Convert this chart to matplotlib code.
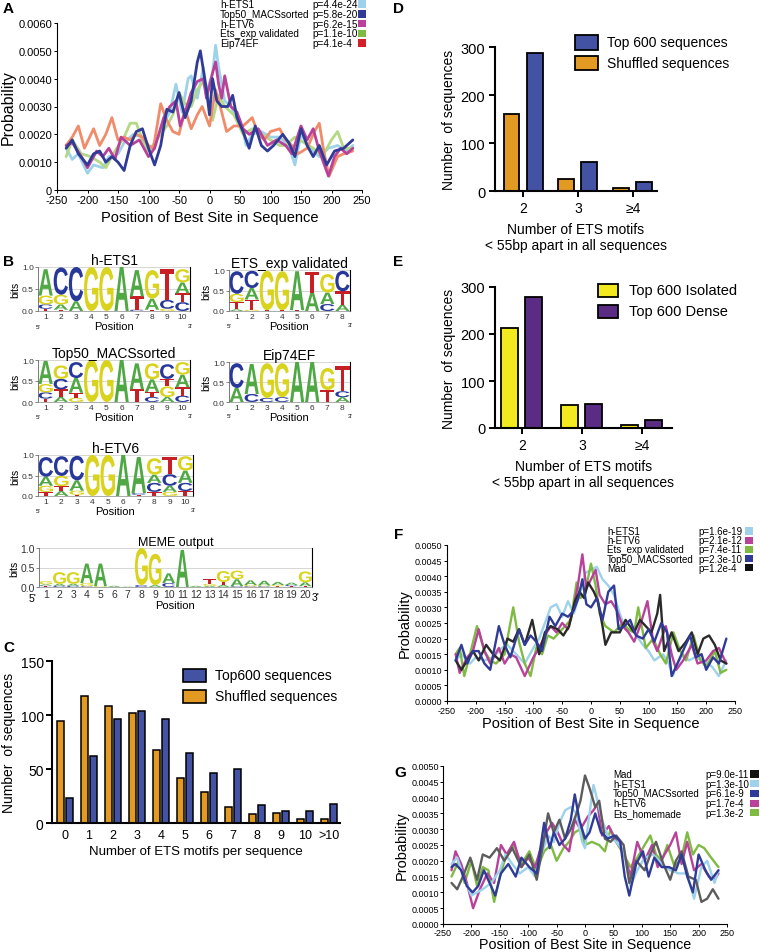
import numpy as np
import matplotlib
matplotlib.use("Agg")
import matplotlib.pyplot as plt
from matplotlib.patches import Rectangle, PathPatch
from matplotlib.textpath import TextPath
from matplotlib.font_manager import FontProperties
from matplotlib.transforms import Affine2D

plt.rcParams['font.family'] = ['Liberation Sans', 'DejaVu Sans']

# ---------------- DATA ----------------
# Panel A (probability x 1e-3)
a_ets1_x = [-235,-225,-215,-200,-190,-175,-165,-150,-140,-125,-110,-100,-90,-75,-65,-55,-45,-35,-30,-20,-10,-5,5,10,15,25,35,45,55,60,70,85,100,115,130,140,150,165,180,195,210,225,235]
a_ets1_y = [1.5,1.1,1.3,0.6,0.9,0.8,1.2,1.3,1.7,2.0,1.9,1.4,1.6,2.4,2.8,3.8,2.8,4.0,4.1,3.3,4.4,3.5,4.2,5.2,4.4,3.2,3.0,2.6,2.1,1.6,2.0,2.1,1.9,1.9,1.6,0.9,2.0,1.5,1.2,1.5,1.6,1.4,1.6]
a_top50_x = [-235,-225,-215,-200,-190,-180,-170,-160,-150,-140,-130,-120,-110,-100,-90,-80,-70,-60,-50,-40,-30,-20,-15,-5,0,5,12,20,30,38,45,55,65,75,85,95,105,120,130,140,150,160,170,180,192,205,220,235]
a_top50_y = [1.5,1.8,1.3,0.9,1.3,1.4,1.0,1.2,1.0,0.7,1.6,2.1,2.2,1.5,0.9,1.6,2.9,2.8,3.5,2.6,3.2,4.6,5.0,3.6,2.7,4.0,3.2,3.0,3.0,3.4,2.6,2.1,1.5,2.3,1.6,1.4,1.6,2.0,1.7,1.2,2.2,1.6,1.2,1.6,0.9,1.4,1.5,1.8]
a_etv6_x = [-235,-225,-210,-200,-185,-175,-165,-155,-145,-130,-115,-100,-90,-75,-65,-55,-48,-40,-30,-20,-10,-5,5,10,15,20,25,35,45,55,65,80,95,110,125,135,150,160,170,180,195,205,215,225,235]
a_etv6_y = [1.6,1.7,1.2,0.8,1.4,1.2,1.5,1.1,1.9,1.6,1.8,1.2,1.5,2.6,3.0,3.2,2.3,2.8,3.5,3.9,4.0,3.3,4.2,4.6,3.8,3.3,4.1,3.0,2.8,2.2,2.0,2.2,1.6,1.8,1.6,1.3,2.3,1.8,2.2,1.4,0.5,1.2,1.5,1.3,1.5]
a_exp_x = [-235,-225,-210,-195,-180,-170,-155,-140,-130,-120,-110,-100,-90,-80,-70,-60,-50,-40,-30,-20,-10,0,5,15,25,40,55,70,85,100,115,125,140,155,170,185,200,210,220,235]
a_exp_y = [1.2,1.8,1.3,1.2,1.0,0.8,1.4,1.9,2.4,2.4,1.8,1.4,1.7,2.0,2.3,2.7,3.5,3.1,3.0,3.6,3.9,3.1,2.5,3.4,3.0,2.7,2.0,2.2,2.0,1.8,1.6,1.6,1.9,1.7,1.5,1.2,1.8,2.1,1.5,1.5]
a_eip_x = [-235,-225,-215,-205,-190,-180,-170,-160,-150,-140,-130,-120,-110,-100,-92,-80,-70,-60,-50,-40,-30,-20,-12,0,10,20,28,40,55,70,80,90,100,115,125,135,145,160,172,180,188,196,210,220,235]
a_eip_y = [1.6,1.9,2.3,1.5,2.2,1.6,2.0,2.6,1.8,1.9,1.8,2.0,1.9,1.6,1.5,3.1,2.5,2.1,2.0,2.9,2.2,2.7,3.0,2.3,3.6,2.8,2.1,2.3,2.3,2.6,2.0,1.8,2.1,2.2,1.8,1.6,1.3,1.5,2.1,2.4,1.3,0.5,1.2,1.3,1.4]
a_names = ['h-ETS1', 'Top50_MACSsorted', 'h-ETV6', 'Ets_exp validated', 'Eip74EF']
a_pvals = ['p=4.4e-24', 'p=5.8e-20', 'p=6.2e-15', 'p=1.1e-10', 'p=4.1e-4']

# Panel F (probability x 1e-3)
f_ets1_x = [-235,-225,-210,-200,-185,-170,-155,-145,-130,-115,-100,-90,-80,-70,-60,-50,-40,-30,-20,-10,0,10,20,30,40,50,60,75,90,100,110,125,135,142,150,160,170,180,195,210,222,235]
f_ets1_y = [1.3,1.5,1.2,1.4,1.3,1.4,1.7,1.8,1.5,1.2,1.7,2.0,2.5,3.0,3.1,2.7,3.2,2.8,3.4,4.1,4.2,4.3,3.9,3.7,3.4,2.8,2.3,2.2,1.8,1.6,1.3,1.5,1.2,0.8,1.2,1.5,1.3,1.4,1.3,1.1,0.8,1.3]
f_etv6_x = [-235,-228,-215,-205,-195,-185,-175,-160,-150,-140,-130,-115,-100,-90,-80,-70,-60,-50,-40,-30,-22,-15,-8,0,8,15,25,35,45,55,65,75,85,98,108,115,130,140,148,160,175,185,200,212,222,235]
f_etv6_y = [1.5,0.9,1.4,1.6,2.3,1.6,1.2,1.7,1.2,1.5,1.4,0.8,1.4,1.7,2.1,2.4,2.2,2.5,2.3,3.0,3.8,4.7,3.6,3.9,4.2,3.4,3.1,3.2,2.9,2.4,2.2,1.9,2.4,3.2,1.9,1.6,2.4,1.5,1.0,1.3,1.8,1.2,1.3,1.6,1.7,1.2]
f_exp_x = [-235,-228,-220,-210,-198,-185,-175,-165,-150,-135,-125,-115,-105,-95,-85,-75,-65,-55,-45,-35,-25,-18,-10,0,8,15,25,40,55,65,75,82,95,108,120,130,143,155,165,178,190,200,215,225,235]
f_exp_y = [1.5,1.7,0.8,1.5,2.4,1.6,1.3,1.2,1.5,3.0,1.9,1.2,0.8,1.7,1.5,2.1,2.0,2.2,2.4,2.6,3.8,3.3,3.5,4.4,3.7,2.8,2.4,2.2,2.5,2.3,2.2,3.0,1.7,2.0,1.5,1.2,2.2,1.6,1.3,2.1,1.3,1.1,1.6,0.9,1.0]
f_top50_x = [-235,-225,-215,-205,-195,-185,-175,-160,-150,-140,-125,-115,-105,-95,-85,-72,-62,-50,-40,-30,-22,-15,-8,0,10,20,30,40,48,58,68,78,90,100,110,122,132,140,150,162,172,182,192,200,212,222,235]
f_top50_y = [1.3,1.8,1.2,1.6,1.6,1.2,1.0,2.4,1.8,1.4,2.3,1.8,2.1,1.9,1.6,2.7,2.4,2.8,2.7,2.9,3.3,3.9,3.1,3.0,3.3,2.6,3.5,3.7,2.3,2.4,2.6,2.1,2.0,2.3,1.9,2.5,2.2,0.8,1.2,1.7,2.1,1.4,1.5,1.0,1.4,1.2,2.0]
f_mad_x = [-235,-225,-215,-205,-195,-182,-170,-158,-145,-135,-125,-115,-102,-90,-80,-70,-58,-48,-38,-28,-20,-12,-5,5,12,20,25,35,50,60,75,85,95,105,115,120,127,140,152,165,175,185,195,205,215,225,235]
f_mad_y = [1.3,1.0,1.3,1.6,1.3,1.8,1.5,1.3,2.0,1.9,2.3,1.8,2.6,1.5,2.2,2.4,2.3,2.1,2.4,3.2,3.5,3.3,3.8,3.5,3.2,2.4,1.8,2.2,2.2,2.6,2.2,2.6,2.4,2.2,2.8,3.4,1.6,2.2,1.6,1.9,2.2,1.5,2.0,2.1,1.8,1.3,1.2]
f_names = ['h-ETS1', 'h-ETV6', 'Ets_exp validated', 'Top50_MACSsorted', 'Mad']
f_pvals = ['p=1.6e-19', 'p=2.1e-12', 'p=7.4e-11', 'p=2.3e-10', 'p=1.2e-4']

# Panel G (probability x 1e-3)
g_mad_x = [-235,-225,-215,-202,-190,-180,-168,-155,-142,-128,-112,-98,-85,-75,-65,-55,-45,-35,-25,-15,-8,0,8,18,25,35,45,55,68,78,90,105,115,125,138,150,160,170,182,195,205,215,225,235]
g_mad_y = [1.3,1.1,1.5,2.1,1.4,2.2,2.1,2.4,2.0,2.4,1.8,2.2,1.4,2.4,3.5,2.9,3.3,2.7,3.0,3.5,3.9,4.7,4.3,3.7,3.9,2.7,2.6,2.8,2.5,1.3,2.0,1.7,2.2,2.6,1.9,1.4,2.0,2.3,1.5,1.4,0.7,0.8,1.1,0.8]
g_ets1_x = [-235,-225,-212,-200,-190,-180,-165,-150,-140,-128,-115,-100,-88,-75,-65,-55,-45,-35,-25,-15,-5,0,8,15,22,30,40,55,68,80,92,105,120,135,150,165,180,192,205,215,228,235]
g_ets1_y = [1.9,2.1,1.4,0.9,1.0,1.1,1.3,1.7,2.2,1.9,1.6,1.8,1.5,2.3,2.8,2.6,3.2,3.6,3.7,3.5,2.6,2.4,3.5,4.4,3.9,3.3,2.8,2.6,2.3,1.2,1.7,2.1,2.2,1.9,1.7,1.6,1.6,0.8,1.8,2.0,1.3,1.7]
g_top50_x = [-235,-228,-218,-208,-198,-188,-178,-168,-158,-148,-135,-122,-112,-98,-85,-72,-62,-55,-45,-35,-25,-18,-10,0,8,18,28,40,52,62,70,78,90,102,112,122,135,148,160,170,180,190,200,212,222,235]
g_top50_y = [1.8,1.9,1.7,1.2,1.0,1.2,1.7,1.3,0.9,1.6,1.9,1.5,2.1,1.8,1.6,3.2,2.4,2.9,2.5,2.7,3.3,4.1,3.3,2.7,2.9,3.5,2.9,2.7,2.8,2.6,1.5,0.9,1.9,2.3,1.5,2.1,1.8,1.8,1.7,2.2,1.5,1.0,2.2,1.7,1.4,1.7]
g_etv6_x = [-235,-228,-218,-208,-197,-185,-172,-160,-148,-138,-125,-112,-100,-88,-78,-68,-58,-48,-38,-28,-18,-8,5,15,22,30,42,55,68,80,92,105,118,128,140,150,160,170,180,192,205,218,228,235]
g_etv6_y = [1.7,2.3,1.9,1.3,0.5,1.1,1.6,1.3,2.5,2.2,2.6,1.8,2.1,1.8,2.4,2.9,3.2,2.9,2.5,2.3,3.3,3.0,3.4,3.6,3.8,2.8,3.1,2.6,2.3,1.5,2.6,2.0,2.5,1.8,2.2,2.5,2.9,1.9,2.6,1.7,1.9,1.5,1.4,1.6]
g_home_x = [-235,-222,-212,-200,-190,-180,-170,-160,-150,-140,-125,-112,-98,-85,-72,-60,-50,-38,-28,-18,-8,0,12,25,35,45,55,68,80,92,105,115,125,135,145,158,170,180,190,200,210,222,235]
g_home_y = [1.5,2.0,1.3,2.0,1.2,1.8,1.7,0.7,1.5,2.1,2.5,1.9,2.3,1.7,2.3,2.5,2.0,2.4,2.6,2.9,3.0,2.5,2.6,2.5,2.3,3.0,2.6,2.2,1.8,2.1,2.5,2.8,2.2,2.0,2.5,1.8,2.1,2.9,2.2,2.5,2.4,2.1,1.8]
g_names = ['Mad', 'h-ETS1', 'Top50_MACSsorted', 'h-ETV6', 'Ets_homemade']
g_pvals = ['p=9.0e-11', 'p=1.3e-10', 'p=6.1e-9', 'p=1.7e-4', 'p=1.3e-2']

# Panel C
c_categories = ['0', '1', '2', '3', '4', '5', '6', '7', '8', '9', '10', '>10']
c_top600 = [23, 62, 96, 104, 96, 65, 46, 50, 17, 11, 11, 18]
c_shuffled = [94, 118, 108, 102, 68, 42, 29, 15, 8, 9, 4, 4]

# Panel D
d_categories = ['2', '3', '≥4']
d_top600 = [287, 60, 18]
d_shuffled = [160, 24, 6]

# Panel E
e_categories = ['2', '3', '≥4']
e_isolated = [212, 50, 7]
e_dense = [278, 51, 18]

# Panel B sequence logos (stacks bottom -> top: letter, bits)
logo_hets1 = [
    [('T', .05), ('C', .10), ('G', .20), ('A', .60)],
    [('T', .03), ('A', .12), ('G', .22), ('C', .62)],
    [('A', .22), ('C', .78)],
    [('G', 1.0)], [('G', 1.0)], [('A', 1.0)],
    [('C', .03), ('T', .30), ('A', .60)],
    [('T', .03), ('A', .25), ('G', .65)],
    [('G', .05), ('C', .20), ('T', .70)],
    [('C', .20), ('T', .20), ('A', .25), ('G', .30)],
]
logo_exp = [
    [('A', .04), ('T', .18), ('G', .20), ('C', .55)],
    [('G', .03), ('T', .25), ('A', .28), ('C', .42)],
    [('T', .02), ('G', .96)],
    [('T', .02), ('G', .95)],
    [('T', .02), ('A', .95)],
    [('A', .45), ('T', .50)],
    [('C', .17), ('A', .28), ('G', .45)],
    [('A', .15), ('T', .33), ('C', .50)],
]
logo_top50 = [
    [('T', .08), ('C', .15), ('G', .20), ('A', .55)],
    [('A', .12), ('T', .18), ('C', .25), ('G', .32)],
    [('G', .10), ('T', .12), ('A', .35), ('C', .38)],
    [('G', 1.0)], [('G', 1.0)], [('A', 1.0)],
    [('T', .30), ('A', .62)],
    [('C', .12), ('T', .12), ('A', .30), ('G', .38)],
    [('A', .12), ('G', .25), ('T', .18), ('C', .35)],
    [('C', .15), ('T', .20), ('A', .30), ('G', .30)],
]
logo_eip = [
    [('A', .35), ('C', .62)],
    [('C', .20), ('A', .75)],
    [('C', .10), ('G', .87)],
    [('C', .12), ('G', .85)],
    [('A', 1.0)], [('A', 1.0)],
    [('T', .30), ('G', .55)],
    [('A', .12), ('C', .15), ('T', .62)],
]
logo_etv6 = [
    [('T', .10), ('G', .15), ('A', .22), ('C', .48)],
    [('A', .12), ('T', .12), ('G', .25), ('C', .48)],
    [('T', .03), ('G', .10), ('A', .25), ('C', .60)],
    [('G', 1.0)], [('G', 1.0)], [('A', 1.0)],
    [('T', .03), ('C', .04), ('A', .88)],
    [('T', .10), ('C', .22), ('A', .20), ('G', .40)],
    [('G', .10), ('A', .15), ('C', .28), ('T', .42)],
    [('T', .12), ('C', .20), ('A', .30), ('G', .35)],
]
logo_meme = [
    [('T', .02), ('C', .02), ('A', .03), ('G', .08)],
    [('C', .03), ('A', .05), ('G', .30)],
    [('C', .03), ('A', .05), ('G', .30)],
    [('C', .02), ('G', .08), ('A', .50)],
    [('G', .02), ('A', .58)],
    [('A', .03)],
    [('A', .01)],
    [('C', .05), ('G', .95)],
    [('A', .05), ('G', .80)],
    [('C', .10), ('A', .25)],
    [('A', .95)],
    [('A', .03)],
    [('A', .03), ('G', .05), ('T', .12)],
    [('A', .05), ('T', .08), ('G', .28)],
    [('C', .02), ('A', .18), ('G', .22)],
    [('C', .02), ('G', .03), ('A', .12)],
    [('C', .02), ('G', .02), ('A', .12)],
    [('T', .02), ('G', .03), ('A', .08)],
    [('T', .02), ('C', .03), ('A', .06)],
    [('T', .02), ('A', .10), ('G', .28)],
]

# ---------------- STYLE ----------------
W, H = 760, 953
LB = '#9dd2ea'; DB = '#2f3b96'; MG = '#b8419a'; GR = '#7fba42'; RD = '#d2202a'
ORANGE = '#e39a22'; BLUE = '#4352a2'; YEL = '#f2ea1e'; PURP = '#5b2c84'
LCOL = {'A': '#4fa844', 'C': '#27389a', 'G': '#d9d31d', 'T': '#c81f24'}

fig = plt.figure(figsize=(W / 100, H / 100), dpi=100)


def rect(x0, y0, x1, y1):
    return [x0 / W, 1 - y1 / H, (x1 - x0) / W, (y1 - y0) / H]


def ftext(x, y, s, **kw):
    kw.setdefault('va', 'center')
    return fig.text(x / W, 1 - y / H, s, **kw)


def fbox(x0, y0, x1, y1, color, ec='none', lw=0):
    fig.add_artist(Rectangle((x0 / W, 1 - y1 / H), (x1 - x0) / W, (y1 - y0) / H,
                             transform=fig.transFigure, fc=color, ec=ec, lw=lw))


FP = FontProperties(family='Liberation Sans', weight='bold')


def draw_letter(ax, letter, x, y, w, h):
    if h <= 0:
        return
    tp = TextPath((0, 0), letter, size=1, prop=FP)
    bb = tp.get_extents()
    t = Affine2D().translate(-bb.x0, -bb.y0).scale(w / bb.width, h / bb.height).translate(x, y)
    ax.add_patch(PathPatch(t.transform_path(tp), fc=LCOL[letter], ec='none', lw=0, clip_on=False))


def logo(box, stacks, title, big=False):
    ax = fig.add_axes(rect(*box))
    n = len(stacks)
    for lv in (0.5, 1.0):
        ax.axhline(lv, color='#d0d0d0', lw=0.6, zorder=0)
    for i, st in enumerate(stacks):
        y = 0.0
        for letter, h in st:
            draw_letter(ax, letter, i + 1 - 0.47, y, 0.94, h)
            y += h
    ax.set_xlim(0.5, n + 0.5)
    ax.set_ylim(0, 1.0)
    fs = 7.5 if big else 6
    ax.set_xticks(range(1, n + 1))
    ax.set_xticklabels([str(i) for i in range(1, n + 1)], fontsize=fs, color='#333333')
    ax.set_yticks([0, 0.5, 1.0])
    ax.set_yticklabels(['0.0', '0.5', '1.0'], fontsize=fs, color='#333333')
    ax.tick_params(axis='x', length=0, pad=1.5)
    ax.tick_params(axis='y', length=2, width=0.5, pad=1, color='#555555')
    ax.spines['top'].set_visible(False)
    ax.spines['left'].set_color('#666666'); ax.spines['left'].set_linewidth(0.6)
    ax.spines['bottom'].set_color('#888888'); ax.spines['bottom'].set_linewidth(0.5)
    ax.spines['right'].set_color('black'); ax.spines['right'].set_linewidth(0.8)
    ax.set_ylabel('bits', fontsize=7.5, labelpad=1)
    ax.set_xlabel('Position', fontsize=8, labelpad=1)
    ax.set_title(title, fontsize=10 if not big else 9, pad=2)
    if big:
        ax.text(-0.01, -0.28, "5'", transform=ax.transAxes, fontsize=7.5, ha='right', va='center')
        ax.text(1.0, -0.26, "3'", transform=ax.transAxes, fontsize=7.5, ha='left', va='center')
    else:
        ax.text(0.0, -0.35, "5'", transform=ax.transAxes, fontsize=4.5, ha='center', va='center')
        ax.text(1.0, -0.33, "3'", transform=ax.transAxes, fontsize=4.5, ha='center', va='center')
    return ax


def profile(box, series, ymax, ystep, yfmt, tfs, lw, pad=1.5):
    ax = fig.add_axes(rect(*box))
    for xs, ys, col in series:
        ax.plot(xs, np.array(ys) * 1e-3, color=col, lw=lw, solid_joinstyle='round',
                solid_capstyle='round')
    ax.set_xlim(-250, 250)
    ax.set_ylim(0, ymax)
    ax.set_xticks(np.arange(-250, 251, 50))
    ax.set_xticklabels([str(v) for v in range(-250, 251, 50)], fontsize=tfs)
    yt = np.arange(0, ymax + ystep / 2, ystep)
    ax.set_yticks(yt)
    ax.set_yticklabels([yfmt(v) for v in yt], fontsize=tfs)
    ax.tick_params(length=2, width=0.7, pad=pad)
    for s in ('top', 'right'):
        ax.spines[s].set_visible(False)
    for s in ('left', 'bottom'):
        ax.spines[s].set_linewidth(0.8)
    return ax


# ---------------- PANEL A ----------------
axA = profile((57, 24, 362, 191),
              [(a_ets1_x, a_ets1_y, LB), (a_exp_x, a_exp_y, '#b5d886'),
               (a_eip_x, a_eip_y, '#f08c6a'), (a_etv6_x, a_etv6_y, MG),
               (a_top50_x, a_top50_y, DB)],
              0.006, 0.001, lambda v: '0' if v == 0 else '%.4f' % v, 8, 2.0)
axA.set_xlabel('Position of Best Site in Sequence', fontsize=10.5, labelpad=4)
axA.set_ylabel('Probability', fontsize=11.5, labelpad=2)
ftext(3, 9, 'A', fontsize=11, weight='bold')
a_cols = [LB, DB, MG, GR, RD]
for i, (nm, pv, col) in enumerate(zip(a_names, a_pvals, a_cols)):
    yy = 5 + 9.8 * i
    ftext(220, yy, nm, fontsize=7.2)
    ftext(312, yy, pv, fontsize=7.2)
    fbox(358, yy - 3.8, 366, yy + 3.8, col)

# ---------------- PANEL B ----------------
ftext(3, 262, 'B', fontsize=11, weight='bold')
logo((38, 268, 190, 312), logo_hets1, 'h-ETS1')
logo((229, 271, 350, 312), logo_exp, 'ETS_exp validated')
logo((38, 361, 190, 403), logo_top50, 'Top50_MACSsorted')
logo((229, 363, 350, 403), logo_eip, 'Eip74EF')
logo((38, 456, 193, 497), logo_etv6, 'h-ETV6')
logo((39, 549, 312, 588), logo_meme, 'MEME output', big=True)

# ---------------- PANEL C ----------------
ftext(3, 648, 'C', fontsize=11, weight='bold')
axC = fig.add_axes(rect(52, 662, 340, 824))
xc = np.arange(len(c_categories))
axC.bar(xc - 0.18, c_shuffled, 0.28, color=ORANGE, edgecolor='black', lw=1.1)
axC.bar(xc + 0.18, c_top600, 0.28, color=BLUE, edgecolor='black', lw=1.1)
axC.set_xlim(-0.54, 11.46)
axC.set_ylim(0, 150)
axC.set_yticks([0, 50, 100, 150])
axC.set_yticklabels(['0', '50', '100', '150'], fontsize=10)
axC.set_xticks(xc)
axC.set_xticklabels(c_categories, fontsize=9)
axC.tick_params(axis='y', length=4, width=1.4, pad=2)
axC.tick_params(axis='x', length=0, pad=4)
for s in ('top', 'right'):
    axC.spines[s].set_visible(False)
for s in ('left', 'bottom'):
    axC.spines[s].set_linewidth(1.5)
axC.set_ylabel('Number  of sequences', fontsize=10, labelpad=3)
axC.set_xlabel('Number of ETS motifs per sequence', fontsize=9.5, labelpad=3)
fbox(183, 670, 206, 683, BLUE, 'black', 1.2)
fbox(183, 691, 206, 704, ORANGE, 'black', 1.2)
ftext(215, 676, 'Top600 sequences', fontsize=10)
ftext(215, 697, 'Shuffled sequences', fontsize=10)


def bars3(box, cats, v1, v2, c1, c2, off1, off2, width, xl):
    ax = fig.add_axes(rect(*box))
    x = np.arange(len(cats))
    ax.bar(x + off1, v1, width, color=c1, edgecolor='black', lw=1.3)
    ax.bar(x + off2, v2, width, color=c2, edgecolor='black', lw=1.3)
    ax.set_xlim(*xl)
    ax.set_ylim(0, 300)
    ax.set_yticks([0, 100, 200, 300])
    ax.set_yticklabels(['0', '100', '200', '300'], fontsize=10.5)
    ax.set_xticks(x)
    ax.set_xticklabels(cats, fontsize=10)
    ax.tick_params(length=4, width=1.4, pad=3)
    for s in ('top', 'right'):
        ax.spines[s].set_visible(False)
    for s in ('left', 'bottom'):
        ax.spines[s].set_linewidth(1.5)
    ax.set_ylabel('Number  of sequences', fontsize=10, labelpad=3)
    ax.set_xlabel('Number of ETS motifs\n< 55bp apart in all sequences', fontsize=10, labelpad=5)
    return ax


# ---------------- PANEL D ----------------
ftext(393, 9, 'D', fontsize=11, weight='bold')
bars3((495, 48, 657, 192), d_categories, d_shuffled, d_top600, ORANGE, BLUE,
      -0.21, 0.21, 0.29, (-0.51, 2.44))
fbox(575, 36, 598, 51, BLUE, 'black', 1.3)
fbox(575, 57, 598, 71, ORANGE, 'black', 1.3)
ftext(607, 43, 'Top 600 sequences', fontsize=10)
ftext(607, 64, 'Shuffled sequences', fontsize=10)

# ---------------- PANEL E ----------------
ftext(393, 262, 'E', fontsize=11, weight='bold')
bars3((495, 288, 672, 429), e_categories, e_isolated, e_dense, YEL, PURP,
      -0.21, 0.19, 0.27, (-0.45, 2.5))
fbox(598, 285, 618, 298, YEL, 'black', 1.3)
fbox(598, 306, 618, 319, PURP, 'black', 1.3)
ftext(629, 291, 'Top 600 Isolated', fontsize=10.5)
ftext(629, 312, 'Top 600 Dense', fontsize=10.5)

# ---------------- PANEL F ----------------
fmt4 = lambda v: '%.4f' % v
axF = profile((447, 546, 735, 702),
              [(f_ets1_x, f_ets1_y, LB), (f_exp_x, f_exp_y, GR), (f_etv6_x, f_etv6_y, MG),
               (f_mad_x, f_mad_y, '#2a2a2a'), (f_top50_x, f_top50_y, DB)],
              0.005, 0.0005, fmt4, 6.5, 1.7)
axF.set_xlabel('Position of Best Site in Sequence', fontsize=10.5, labelpad=1)
axF.set_ylabel('Probability', fontsize=10.5, labelpad=2)
ftext(394, 535, 'F', fontsize=11, weight='bold')
f_cols = [LB, MG, GR, DB, '#111111']
for i, (nm, pv, col) in enumerate(zip(f_names, f_pvals, f_cols)):
    yy = 532 + 9.2 * i
    ftext(607, yy, nm, fontsize=7)
    ftext(698, yy, pv, fontsize=7)
    fbox(745, yy - 3.6, 753, yy + 3.6, col)

# ---------------- PANEL G ----------------
axG = profile((443, 767, 727, 925),
              [(g_home_x, g_home_y, GR), (g_etv6_x, g_etv6_y, MG), (g_ets1_x, g_ets1_y, LB),
               (g_mad_x, g_mad_y, '#5c5c5c'), (g_top50_x, g_top50_y, DB)],
              0.005, 0.0005, fmt4, 6.5, 1.7, pad=1)
axG.set_ylabel('Probability', fontsize=10.5, labelpad=2)
ftext(585, 945.5, 'Position of Best Site in Sequence', fontsize=10.3, ha='center')
ftext(394, 773, 'G', fontsize=11, weight='bold')
g_cols = ['#111111', LB, DB, MG, GR]
for i, (nm, pv, col) in enumerate(zip(g_names, g_pvals, g_cols)):
    yy = 775 + 9.7 * i
    ftext(613, yy, nm, fontsize=7)
    ftext(705, yy, pv, fontsize=7)
    fbox(750, yy - 3.6, 759, yy + 3.6, col)

fig.savefig('out.png', dpi=100)
